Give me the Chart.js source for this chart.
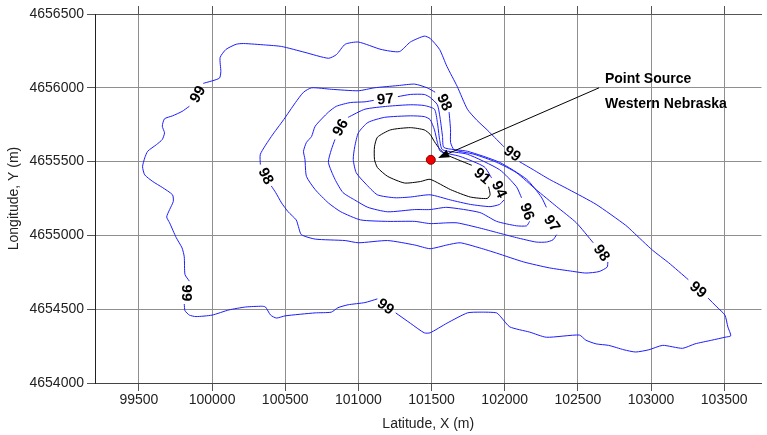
<!DOCTYPE html>
<html>
<head>
<meta charset="utf-8">
<script src="https://cdn.jsdelivr.net/npm/chart.js@4.4.0/dist/chart.umd.min.js"></script>
<style>
  html, body { margin: 0; padding: 0; background: #fff; }
</style>
</head>
<body>
<canvas id="plumeChart" width="767" height="435"></canvas>
<script>
// Axis ticks
const xTickValues = [99500, 100000, 100500, 101000, 101500, 102000, 102500, 103000, 103500];
const yTickValues = [4654000, 4654500, 4655000, 4655500, 4656000, 4656500];

// Contour lines (null = gap left for a label)
const contour99X = [99940, 100050, 100060, 100055, 100095, 100165, 100215, 100365, 100475, 100635, 100795, 100850, 100910, 101000, 101155, 101280, 101355, 101450, 101490, 101555, 101605, 101675, 101745, 101810, 101880, 101945, 101995,
    null, 102100, 102195, 102305, 102440, 102625, 102825, 102875, 103010, 103120, 103255,
    null, 103390, 103450, 103505, 103525, 103545, 103505, 103415, 103300, 103215, 103080, 102985, 102895, 102815, 102710, 102625, 102555, 102510, 102285, 102170, 102035, 101980, 101945, 101830, 101745, 101605, 101490, 101450, 101355, 101255,
    null, 101130, 101045, 100930, 100860, 100815, 100705, 100500, 100440, 100400, 100365, 100340, 100230, 100115, 100000, 99890, 99845, 99815, 99810,
    null, 99845, 99815, 99810, 99795, 99755, 99710, 99690, 99710, 99735, 99730, 99660, 99595, 99540, 99525, 99540, 99560, 99620, 99660, 99675, 99660, 99675, 99730, 99795, 99845];
const contour99Y = [4656030, 4656065, 4656110, 4656205, 4656260, 4656295, 4656300, 4656290, 4656280, 4656240, 4656200, 4656225, 4656295, 4656310, 4656260, 4656245, 4656310, 4656350, 4656335, 4656260, 4656145, 4656010, 4655855, 4655780, 4655715, 4655650, 4655600,
    null, 4655500, 4655445, 4655380, 4655310, 4655210, 4655070, 4655025, 4654900, 4654815, 4654700,
    null, 4654575, 4654515, 4654460, 4654380, 4654320, 4654310, 4654290, 4654265, 4654235, 4654255, 4654225, 4654210, 4654225, 4654255, 4654265, 4654290, 4654325, 4654310, 4654345, 4654380, 4654440, 4654475, 4654480, 4654475, 4654405, 4654340, 4654340, 4654405, 4654475,
    null, 4654570, 4654545, 4654530, 4654510, 4654480, 4654475, 4654455, 4654440, 4654460, 4654515, 4654520, 4654515, 4654495, 4654460, 4654450, 4654460, 4654490, 4654535,
    null, 4654690, 4654735, 4654855, 4654915, 4654985, 4655085, 4655125, 4655175, 4655230, 4655275, 4655325, 4655365, 4655410, 4655465, 4655525, 4655570, 4655615, 4655650, 4655695, 4655740, 4655790, 4655810, 4655840, 4655875];

const contour98X = [100330, 100330, 100405, 100490, 100570, 100625, 100680, 100815, 101000, 101110, 101270, 101385, 101470, 101525,
    null, 101620, 101630, 101630, 101655, 101790, 101945, 102080, 102215, 102355, 102490, 102605,
    null, 102705, 102700, 102645, 102555, 102440, 102305, 102130, 101945, 101830, 101695, 101605, 101490, 101385, 101200, 101000, 100910, 100705, 100610, 100590, 100575, 100520, 100475, 100435, 100405];
const contour98Y = [4655480, 4655550, 4655670, 4655785, 4655900, 4655970, 4656000, 4655990, 4655980, 4656000, 4656015, 4656025, 4656000, 4655970,
    null, 4655835, 4655715, 4655630, 4655580, 4655550, 4655495, 4655425, 4655310, 4655195, 4655085, 4654950,
    null, 4654820, 4654785, 4654755, 4654745, 4654760, 4654780, 4654820, 4654880, 4654915, 4654950, 4654935, 4654910, 4654935, 4654965, 4654950, 4654965, 4654975, 4655005, 4655060, 4655105, 4655160, 4655220, 4655290, 4655335];

const contour97X = [101270, 101355, 101450, 101490, 101540, 101560, 101575, 101585, 101745, 101965, 102150, 102250, 102285,
    null, 102355, 102330, 102285, 102215, 102080, 101945, 101830, 101675, 101605, 101490, 101385, 101200, 101015, 100880, 100795, 100705, 100645, 100635, 100625, 100645, 100680, 100705, 100795, 100850, 100945, 101045, 101105];
const contour97Y = [4655940, 4655955, 4655955, 4655935, 4655885, 4655785, 4655670, 4655595, 4655570, 4655495, 4655380, 4655260, 4655190,
    null, 4655005, 4654970, 4654955, 4654955, 4654985, 4655020, 4655050, 4655085, 4655085, 4655080, 4655095, 4655095, 4655105, 4655160, 4655220, 4655310, 4655400, 4655515, 4655570, 4655630, 4655670, 4655740, 4655835, 4655875, 4655900, 4655905, 4655915];

const contour96X = [100930, 101045, 101200, 101355, 101450, 101520, 101540, 101555, 101575, 101745, 101965, 102080, 102115,
    null, 102170, 102150, 102080, 101945, 101830, 101605, 101490, 101385, 101200, 101065, 100975, 100895, 100840, 100795, 100815, 100840];
const contour96Y = [4655800, 4655855, 4655875, 4655885, 4655880, 4655855, 4655765, 4655650, 4655580, 4655550, 4655445, 4655330, 4655255,
    null, 4655095, 4655065, 4655065, 4655095, 4655155, 4655190, 4655175, 4655175, 4655160, 4655190, 4655240, 4655290, 4655380, 4655495, 4655580, 4655650];

const contour94X = [101995, 101965, 101900, 101765, 101630, 101490, 101355, 101250, 101130, 101045, 100985, 100965, 100975, 101000, 101065, 101180, 101355, 101450, 101490, 101520, 101540, 101560, 101695, 101860, 101910];
const contour94Y = [4655240, 4655210, 4655195, 4655210, 4655240, 4655275, 4655260, 4655255, 4655275, 4655355, 4655425, 4655515, 4655600, 4655695, 4655765, 4655800, 4655810, 4655805, 4655785, 4655715, 4655630, 4655570, 4655535, 4655465, 4655390];

const contour91X = [101890, 101900, 101880, 101765, 101630, 101490, 101425, 101315, 101200, 101130, 101110, 101110, 101130, 101220, 101355, 101450, 101490, 101520, 101560, 101595, 101675, 101775];
const contour91Y = [4655330, 4655275, 4655250, 4655260, 4655310, 4655380, 4655365, 4655355, 4655400, 4655460, 4655515, 4655600, 4655665, 4655715, 4655730, 4655715, 4655685, 4655635, 4655580, 4655550, 4655515, 4655475];

// Contour labels: value, position, angle along the line
const contourLabels = [
    { text: '99', x: 99905, y: 4655955, angle: -60 },
    { text: '99', x: 102050, y: 4655550, angle: 35 },
    { text: '99', x: 103320, y: 4654630, angle: 40 },
    { text: '99', x: 101185, y: 4654515, angle: 35 },
    { text: '99', x: 99825, y: 4654610, angle: 90 },
    { text: '98', x: 100365, y: 4655400, angle: 62 },
    { text: '98', x: 101585, y: 4655900, angle: 65 },
    { text: '98', x: 102660, y: 4654880, angle: 55 },
    { text: '97', x: 101185, y: 4655920, angle: -6 },
    { text: '97', x: 102320, y: 4655080, angle: 55 },
    { text: '96', x: 100880, y: 4655730, angle: -60 },
    { text: '96', x: 102150, y: 4655160, angle: 70 },
    { text: '94', x: 101960, y: 4655310, angle: 65 },
    { text: '91', x: 101845, y: 4655400, angle: 40 }
];

// Source location and its callout
const sourceX = [101495];
const sourceY = [4655512];
const calloutStart = { x: 102645, y: 4656000 };
const calloutTip = { x: 101545, y: 4655525 };
const calloutLines = [
    { text: 'Point Source', x: 102685, y: 4656056 },
    { text: 'Western Nebraska', x: 102685, y: 4655886 }
];

const FONT = '"Liberation Sans", Arial, Helvetica, sans-serif';
const BLUE = 'rgb(28, 28, 255)';

function toPoints(xs, ys) {
    return xs.map((x, i) => ({ x: x, y: ys[i] }));
}

function contourSet(xs, ys, color) {
    return {
        data: toPoints(xs, ys),
        borderColor: color,
        borderWidth: 1,
        pointRadius: 0,
        tension: 0.2,
        fill: false,
        spanGaps: false
    };
}

/** Draws the contour labels and the source callout on top of the lines. */
const overlayPlugin = {
    id: 'overlay',
    afterDatasetsDraw(chart) {
        const ctx = chart.ctx;
        const xs = chart.scales.x;
        const ys = chart.scales.y;
        ctx.save();
        ctx.fillStyle = '#000';
        ctx.font = 'bold 15px ' + FONT;
        ctx.textAlign = 'center';
        ctx.textBaseline = 'middle';
        contourLabels.forEach(l => {
            ctx.save();
            ctx.translate(xs.getPixelForValue(l.x), ys.getPixelForValue(l.y));
            ctx.rotate(l.angle * Math.PI / 180);
            ctx.fillText(l.text, 0, 0);
            ctx.restore();
        });

        // arrow
        const x0 = xs.getPixelForValue(calloutStart.x), y0 = ys.getPixelForValue(calloutStart.y);
        const x1 = xs.getPixelForValue(calloutTip.x), y1 = ys.getPixelForValue(calloutTip.y);
        const a = Math.atan2(y1 - y0, x1 - x0);
        ctx.strokeStyle = '#000';
        ctx.lineWidth = 1;
        ctx.beginPath();
        ctx.moveTo(x0, y0);
        ctx.lineTo(x1 - 8 * Math.cos(a), y1 - 8 * Math.sin(a));
        ctx.stroke();
        ctx.beginPath();
        ctx.moveTo(x1, y1);
        ctx.lineTo(x1 - 11 * Math.cos(a) + 4 * Math.sin(a), y1 - 11 * Math.sin(a) - 4 * Math.cos(a));
        ctx.lineTo(x1 - 11 * Math.cos(a) - 4 * Math.sin(a), y1 - 11 * Math.sin(a) + 4 * Math.cos(a));
        ctx.closePath();
        ctx.fill();

        ctx.font = 'bold 14px ' + FONT;
        ctx.textAlign = 'left';
        calloutLines.forEach(t => {
            ctx.fillText(t.text, xs.getPixelForValue(t.x), ys.getPixelForValue(t.y));
        });
        ctx.restore();
    }
};

const setXTicks = scale => { scale.ticks = xTickValues.map(v => ({ value: v })); };
const setYTicks = scale => { scale.ticks = yTickValues.map(v => ({ value: v })); };

Chart.defaults.font.family = FONT;
Chart.defaults.font.size = 14;
Chart.defaults.color = '#222';

const plumeChart = new Chart(document.getElementById('plumeChart'), {
    type: 'line',
    data: {
        datasets: [
            {
                type: 'scatter',
                data: toPoints(sourceX, sourceY),
                pointRadius: 4.5,
                backgroundColor: '#f00000',
                borderColor: '#8a0000',
                borderWidth: 1
            },
            contourSet(contour99X, contour99Y, BLUE),
            contourSet(contour98X, contour98Y, BLUE),
            contourSet(contour97X, contour97Y, BLUE),
            contourSet(contour96X, contour96Y, BLUE),
            contourSet(contour94X, contour94Y, BLUE),
            contourSet(contour91X, contour91Y, '#000')
        ]
    },
    options: {
        responsive: false,
        animation: false,
        layout: { padding: 0 },
        plugins: {
            legend: { display: false },
            tooltip: { enabled: false }
        },
        scales: {
            x: {
                type: 'linear',
                position: 'bottom',
                min: 99200,
                max: 103755,
                afterBuildTicks: setXTicks,
                afterFit: s => { s.height = 52; },
                ticks: { padding: 1, maxRotation: 0, autoSkip: false, callback: v => String(v) },
                grid: { color: '#8f8f8f', tickColor: '#555', tickLength: 8 },
                border: { color: '#444' },
                title: { display: true, text: 'Latitude, X (m)', padding: { top: 0, bottom: 2 } }
            },
            xTop: {
                type: 'linear',
                position: 'top',
                min: 99200,
                max: 103755,
                afterBuildTicks: setXTicks,
                afterFit: s => { s.height = 14; },
                ticks: { display: false },
                grid: { drawOnChartArea: false, tickColor: '#555', tickLength: 8 },
                border: { color: '#555' }
            },
            y: {
                type: 'linear',
                min: 4654000,
                max: 4656500,
                afterBuildTicks: setYTicks,
                afterFit: s => { s.width = 95; },
                ticks: { padding: 3, callback: v => String(v) },
                grid: { color: '#8f8f8f', tickColor: '#555', tickLength: 8 },
                border: { color: '#222' },
                title: { display: true, text: 'Longitude, Y (m)', padding: { top: 6, bottom: 0 } }
            }
        }
    },
    plugins: [overlayPlugin]
});
</script>
</body>
</html>
